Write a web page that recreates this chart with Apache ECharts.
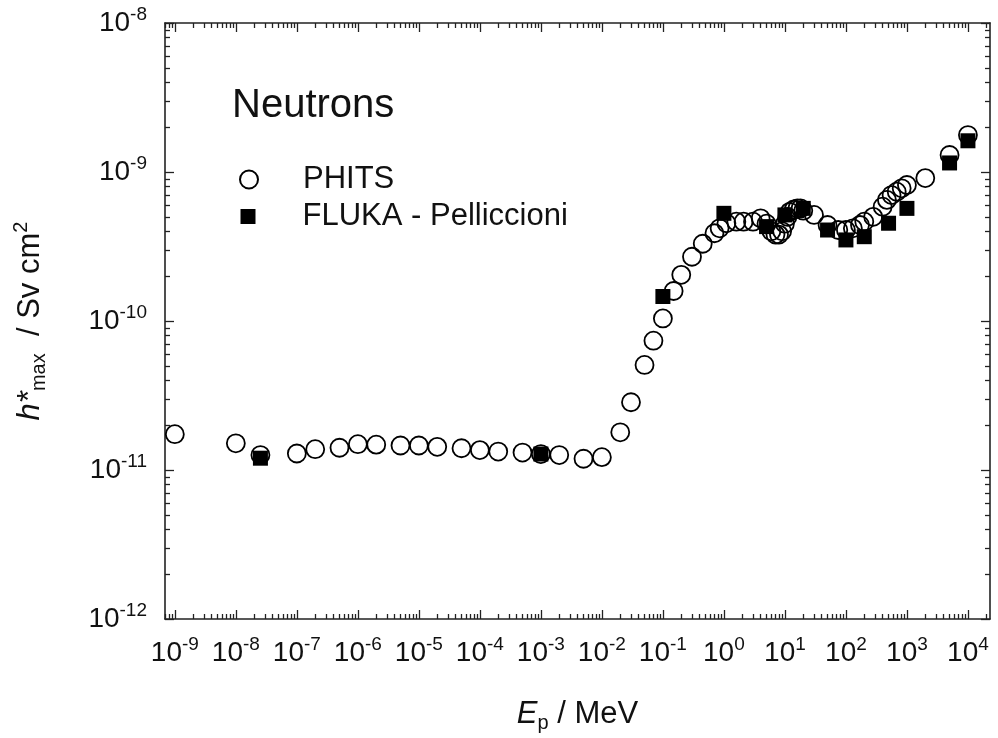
<!DOCTYPE html>
<html><head><meta charset="utf-8">
<script src="https://cdn.jsdelivr.net/npm/echarts@6/dist/echarts.min.js"></script>
<style>html,body{margin:0;padding:0;background:#fff}#c{width:998px;height:738px}</style>
</head><body><div id="c"></div>
<script>
// ---- data ----
const phitsE = [1e-9, 1e-8, 2.53e-8, 1e-7, 2e-7, 5e-7, 1e-6, 2e-6, 5e-6, 1e-5, 2e-5, 5e-5, 1e-4, 2e-4, 5e-4, 1e-3, 2e-3, 5e-3, 1e-2,
  2e-2, 3e-2, 5e-2, 7e-2, 0.1, 0.15, 0.2, 0.3, 0.45, 0.7, 0.85, 1.1, 1.6, 2.1, 3, 4, 5, 6, 7, 8, 9, 10, 11, 12, 14, 16, 18, 20,
  30, 50, 75, 100, 130, 170, 200, 280, 400, 470, 560, 680, 820, 1000, 2000, 5000, 10000];
const phitsH = [1.74e-11, 1.51e-11, 1.26e-11, 1.29e-11, 1.38e-11, 1.41e-11, 1.49e-11, 1.48e-11, 1.46e-11, 1.46e-11, 1.43e-11, 1.40e-11,
  1.36e-11, 1.33e-11, 1.31e-11, 1.28e-11, 1.26e-11, 1.19e-11, 1.22e-11,
  1.79e-11, 2.85e-11, 5.07e-11, 7.38e-11, 1.04e-10, 1.59e-10, 2.04e-10, 2.70e-10, 3.3e-10, 3.88e-10, 4.19e-10, 4.53e-10, 4.64e-10,
  4.64e-10, 4.64e-10, 4.89e-10, 4.5e-10, 4.0e-10, 3.8e-10, 3.8e-10, 4.0e-10, 4.5e-10, 5.0e-10, 5.4e-10, 5.6e-10, 5.7e-10, 5.7e-10, 5.5e-10,
  5.15e-10, 4.41e-10, 4.08e-10, 4.08e-10, 4.19e-10, 4.41e-10, 4.64e-10, 5.0e-10, 5.85e-10, 6.5e-10, 7.0e-10, 7.38e-10, 7.77e-10, 8.18e-10,
  9.1e-10, 1.3e-9, 1.77e-9];
const flukaE = [2.53e-8, 1e-3, 0.1, 1, 5, 10, 20, 50, 100, 200, 500, 1000, 5000, 10000];
const flukaH = [1.2e-11, 1.28e-11, 1.46e-10, 5.28e-10, 4.30e-10, 5.15e-10, 5.7e-10, 4.08e-10, 3.50e-10, 3.68e-10, 4.53e-10, 5.7e-10, 1.15e-9, 1.62e-9];

const seriesNames = ['PHITS', 'FLUKA - Pelliccioni'];
const panelTitle = 'Neutrons';
const xRange = [6.9e-10, 2.3e4];
const yRange = [1e-12, 1e-8];
const xMajor = [1e-9, 1e-8, 1e-7, 1e-6, 1e-5, 1e-4, 1e-3, 1e-2, 1e-1, 1e0, 1e1, 1e2, 1e3, 1e4];
const yMajor = [1e-12, 1e-11, 1e-10, 1e-9, 1e-8];
const minorMultipliers = [2, 3, 4, 5, 6, 7, 8, 9];

function minorsOf(majors, lo, hi) {
  const out = [];
  const first = Math.floor(Math.log10(lo)), last = Math.ceil(Math.log10(hi));
  for (let d = first; d < last; d++) {
    minorMultipliers.forEach(m => { const v = m * Math.pow(10, d); if (v > lo && v < hi) out.push(v); });
  }
  return out;
}
const xMinor = minorsOf(xMajor, xRange[0], xRange[1]);
const yMinor = minorsOf(yMajor, yRange[0], yRange[1]);

const ink = '#111';
const font = '"Liberation Sans", Arial, Helvetica, sans-serif';

function fmt(v) {
  const l = Math.log10(v), e = Math.round(l);
  if (Math.abs(l - e) > 1e-6) return '';
  return '{b|10}{s|' + e + '}';
}
const labelRich = {
  b: {fontSize: 28, lineHeight: 36, color: ink, fontFamily: font},
  s: {fontSize: 19, lineHeight: 19, verticalAlign: 'top', color: ink, fontFamily: font}
};
const nameRich = {
  i: {fontSize: 31, lineHeight: 38, fontStyle: 'italic', color: ink, fontFamily: font},
  t: {fontSize: 31, lineHeight: 38, color: ink, fontFamily: font},
  sub: {fontSize: 20, lineHeight: 20, verticalAlign: 'bottom', color: ink, fontFamily: font},
  sup: {fontSize: 20, lineHeight: 20, verticalAlign: 'top', color: ink, fontFamily: font}
};

function axis(kind, pos, major, opts) {
  const range = kind === 'x' ? xRange : yRange;
  const ticks = major ? (kind === 'x' ? xMajor : yMajor) : (kind === 'x' ? xMinor : yMinor);
  return Object.assign({
    type: 'log', logBase: 10, position: pos, min: range[0], max: range[1],
    axisLine: {show: major, onZero: false, lineStyle: {color: '#222', width: 1.6}},
    axisTick: {show: true, inside: true, length: major ? 9 : 5, customValues: ticks, lineStyle: {color: '#222', width: 1.3}},
    axisLabel: {show: false},
    splitLine: {show: false}, minorTick: {show: false}, minorSplitLine: {show: false}
  }, opts || {});
}

const chart = echarts.init(document.getElementById('c'), null, {renderer: 'canvas'});
chart.setOption({
  animation: false,
  backgroundColor: '#fff',
  grid: {left: 165, right: 8, top: 23, bottom: 119, containLabel: false},
  title: {text: panelTitle, left: 232, top: 86, padding: 0,
    textStyle: {fontSize: 40, fontWeight: 'normal', color: ink, fontFamily: font, lineHeight: 40}},
  legend: [
    {data: [seriesNames[0]], left: 239, top: 164, padding: 0, itemWidth: 18, itemHeight: 18, selectedMode: false,
      textStyle: {fontSize: 31, color: ink, fontFamily: font, padding: [0, 0, 0, 40]}},
    {data: [seriesNames[1]], left: 240.5, top: 201, padding: 0, itemWidth: 15, itemHeight: 15, selectedMode: false,
      textStyle: {fontSize: 31, color: ink, fontFamily: font, padding: [0, 0, 0, 42]}}
  ],
  xAxis: [
    axis('x', 'bottom', true, {
      axisLabel: {show: true, customValues: xMajor, formatter: fmt, margin: 16, rich: labelRich},
      name: '{i|E}{sub|p}{t| / MeV}', nameLocation: 'middle', nameGap: 76,
      nameTextStyle: {color: ink, fontFamily: font, fontSize: 31, rich: nameRich}
    }),
    axis('x', 'top', true),
    axis('x', 'bottom', false),
    axis('x', 'top', false)
  ],
  yAxis: [
    axis('y', 'left', true, {
      axisLabel: {show: true, customValues: yMajor, formatter: fmt, margin: 18, rich: labelRich},
      name: '{i|h*}{sub|max}{t|  / Sv cm}{sup|2}', nameLocation: 'middle', nameGap: 116,
      nameTextStyle: {color: ink, fontFamily: font, fontSize: 31, rich: nameRich}
    }),
    axis('y', 'right', true),
    axis('y', 'left', false),
    axis('y', 'right', false)
  ],
  series: [
    {name: seriesNames[0], type: 'scatter', xAxisIndex: 0, yAxisIndex: 0, symbol: 'circle', symbolSize: 18,
      itemStyle: {color: 'rgba(255,255,255,0)', borderColor: '#000', borderWidth: 1.8, opacity: 1},
      data: phitsE.map((e, i) => [e, phitsH[i]]), z: 3},
    {name: seriesNames[1], type: 'scatter', xAxisIndex: 0, yAxisIndex: 0, symbol: 'rect', symbolSize: 15,
      itemStyle: {color: '#000', borderWidth: 0, opacity: 1},
      data: flukaE.map((e, i) => [e, flukaH[i]]), z: 4}
  ]
});
</script></body></html>
